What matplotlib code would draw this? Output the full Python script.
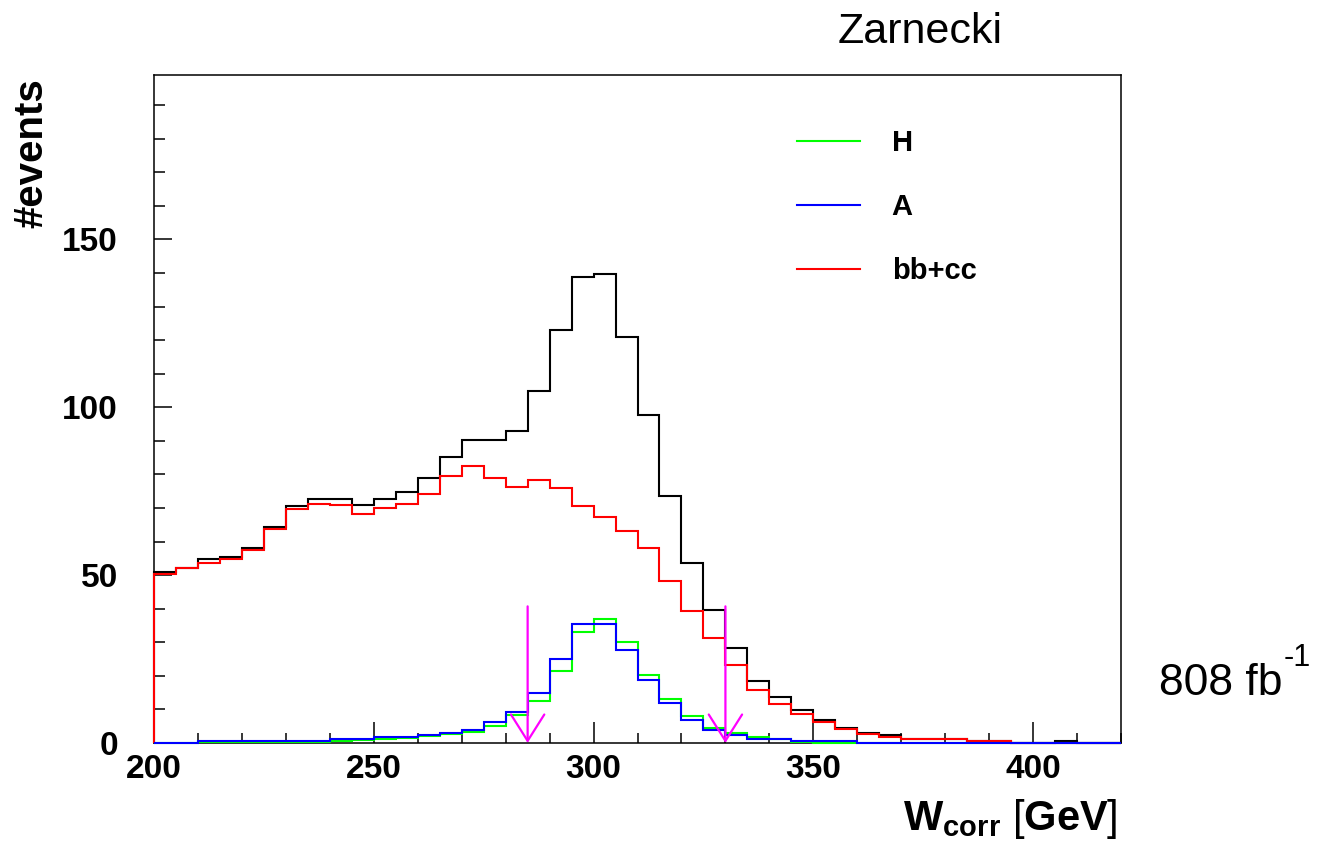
import numpy as np
import matplotlib
matplotlib.use("Agg")
import matplotlib.pyplot as plt
from matplotlib.ticker import MultipleLocator

plt.rcParams['font.family'] = ['Liberation Sans', 'DejaVu Sans']
plt.rcParams['mathtext.fontset'] = 'custom'
plt.rcParams['mathtext.rm'] = 'Liberation Sans'
plt.rcParams['mathtext.bf'] = 'Liberation Sans:bold'
plt.rcParams['mathtext.it'] = 'Liberation Sans:italic'

# binning: 5 GeV bins from 200 to 420 GeV
bin_lo, bin_hi, bin_width = 200, 420, 5

# total (black)
total = [50.8, 52.2, 54.7, 55.3, 58.0, 64.3, 70.6, 72.6, 72.6, 70.8,
         72.6, 74.9, 78.8, 85.1, 90.2, 90.2, 93.0, 105.0, 122.9, 138.8,
         139.6, 120.9, 97.7, 73.6, 53.5, 39.7, 28.3, 18.6, 13.8, 9.7,
         6.7, 4.4, 2.9, 2.4, 1.2, 1.2, 1.2, 0.7, 0.7, 0.0,
         0.0, 0.7, 0.0, 0.0]

# bb+cc background (red)
bbcc = [50.4, 52.0, 53.5, 54.7, 57.5, 63.8, 69.6, 71.3, 70.8, 68.3,
        70.1, 71.3, 74.1, 79.4, 82.6, 78.8, 76.4, 78.3, 75.9, 70.6,
        67.3, 63.1, 58.0, 48.2, 39.2, 31.3, 23.3, 15.8, 11.5, 8.7,
        6.2, 4.1, 2.6, 1.9, 1.2, 1.2, 1.2, 0.7, 0.7, 0.0,
        0.0, 0.0, 0.0, 0.0]

# H signal (green)
sig_H = [0.0, 0.0, 0.3, 0.3, 0.3, 0.3, 0.3, 0.3, 0.5, 0.8,
         1.1, 1.5, 2.0, 2.6, 3.4, 5.2, 8.2, 12.6, 21.5, 33.1,
         37.0, 30.1, 20.3, 13.0, 7.9, 4.6, 3.0, 1.8, 1.2, 0.3,
         0.0, 0.0, 0.0, 0.0, 0.0, 0.0, 0.0, 0.0, 0.0, 0.0,
         0.0, 0.0, 0.0, 0.0]

# A signal (blue)
sig_A = [0.0, 0.0, 0.5, 0.5, 0.5, 0.5, 0.5, 0.5, 1.1, 1.1,
         1.7, 1.7, 2.4, 2.9, 4.0, 6.2, 9.2, 14.8, 25.1, 35.5,
         35.5, 27.8, 18.8, 11.9, 6.9, 4.0, 2.4, 1.3, 1.1, 0.5,
         0.5, 0.5, 0.0, 0.0, 0.0, 0.0, 0.0, 0.0, 0.0, 0.0,
         0.0, 0.0, 0.0, 0.0]

# mass window cuts (magenta arrows)
cut_positions = [285, 330]
cut_height = 40.7

edges = np.arange(bin_lo, bin_hi + bin_width, bin_width)

fig = plt.figure(figsize=(13.21, 8.5), dpi=100)
ax = fig.add_axes([0.1166, 0.1259, 0.7320, 0.7859])

lw = 1.5
ax.stairs(total, edges, baseline=0, color='black', lw=lw, clip_on=False, zorder=3)
h_red = ax.stairs(bbcc, edges, baseline=0, color='#ff0000', lw=lw, clip_on=False,
                  zorder=3, label='bb+cc')
h_green = ax.stairs(sig_H, edges, baseline=0, color='#00ff00', lw=lw, clip_on=False,
                    zorder=3, label='H')
h_blue = ax.stairs(sig_A, edges, baseline=0, color='#0000ff', lw=lw, clip_on=False,
                   zorder=3, label='A')

for xc in cut_positions:
    ax.annotate('', xy=(xc, 0), xytext=(xc, cut_height),
                arrowprops=dict(arrowstyle='->,head_length=1.9,head_width=1.2',
                                color='#ff00ff', lw=1.6, shrinkA=0, shrinkB=0,
                                mutation_scale=10),
                annotation_clip=False, zorder=4)

ax.set_xlim(bin_lo, bin_hi)
ax.set_ylim(0, 199)

ax.xaxis.set_major_locator(MultipleLocator(50))
ax.xaxis.set_minor_locator(MultipleLocator(10))
ax.yaxis.set_major_locator(MultipleLocator(50))
ax.yaxis.set_minor_locator(MultipleLocator(10))

ax.tick_params(axis='x', which='major', direction='in', length=15, width=1.1,
               labelsize=24, pad=8)
ax.tick_params(axis='x', which='minor', direction='in', length=7, width=1.1)
ax.tick_params(axis='y', which='major', direction='in', length=13, width=1.1,
               labelsize=24, pad=26)
ax.tick_params(axis='y', which='minor', direction='in', length=8, width=1.1)
for lab in ax.get_xticklabels() + ax.get_yticklabels():
    lab.set_fontweight('bold')

for sp in ax.spines.values():
    sp.set_linewidth(1.1)

ax.legend(handles=[h_green, h_blue, h_red], loc='upper left',
          bbox_to_anchor=(0.650, 0.941), frameon=False, borderpad=0,
          handlelength=2.17, handletextpad=1.07, labelspacing=1.24,
          prop={'family': 'Liberation Sans', 'weight': 'bold', 'size': 21})

fig.text(31 / 1321, 1 - 78 / 850, '#events', rotation=90, ha='center', va='top',
         fontsize=29, fontweight='bold')
fig.text(1118 / 1321, 1 - 830 / 850, r'$\mathbf{W}_{\mathbf{corr}}\ [\mathbf{GeV}]$',
         ha='right', va='baseline', fontsize=30)
fig.text(838 / 1321, 1 - 43 / 850, 'Zarnecki', ha='left', va='baseline', fontsize=31)
fig.text(1159 / 1321, 1 - 695 / 850, '808 fb', ha='left', va='baseline', fontsize=32)
fig.text(1284 / 1321, 1 - 666 / 850, '-1', ha='left', va='baseline', fontsize=22)

fig.savefig('out.png', dpi=100)
